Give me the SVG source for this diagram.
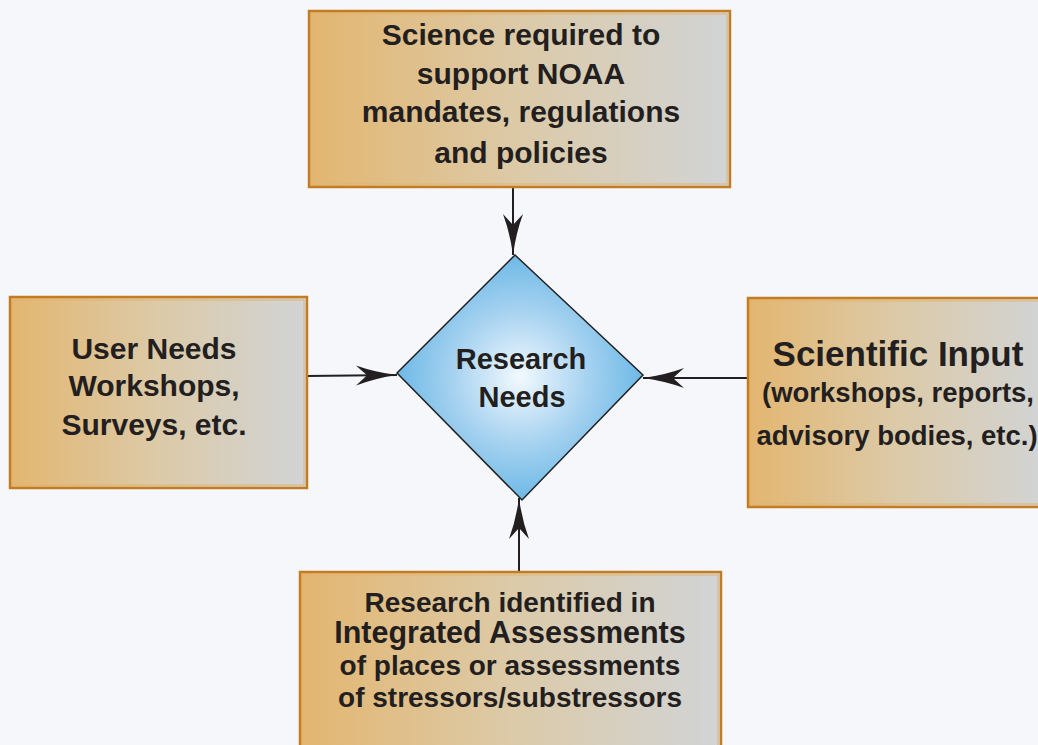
<svg xmlns="http://www.w3.org/2000/svg" width="1038" height="745" viewBox="0 0 1038 745">
<style>
.box{fill:url(#boxGrad);stroke:#c47c22;stroke-width:2.5}
.inner{fill:none;stroke:#e2b36e;stroke-width:1}
.t{font-family:"Liberation Sans",Arial,sans-serif;font-weight:bold;fill:#231f20;text-anchor:middle}
.conn{stroke:#231f20;stroke-width:2;fill:none;marker-end:url(#arrow)}
</style>
<defs>
<linearGradient id="boxGrad" x1="0" y1="0" x2="1" y2="0">
<stop offset="0" stop-color="#e3b670"/>
<stop offset="0.5" stop-color="#dccaa8"/>
<stop offset="1" stop-color="#d1d4d6"/>
</linearGradient>
<radialGradient id="diaGrad" cx="0.5" cy="0.5" r="0.5">
<stop offset="0" stop-color="#f2f9fe"/>
<stop offset="0.55" stop-color="#a6d2f0"/>
<stop offset="1" stop-color="#6db9e6"/>
</radialGradient>
<marker id="arrow" markerUnits="userSpaceOnUse" markerWidth="44" markerHeight="24" viewBox="-42 -12 44 24" refX="0" refY="0" orient="auto">
<path d="M0,0 Q-22,-3 -41,-10 L-30,0 L-41,10 Q-22,3 0,0 Z" fill="#231f20"/>
</marker>
</defs>
<rect width="1038" height="745" fill="#f5f7fb"/>
<g id="connectors">
<line class="conn" x1="513" y1="187" x2="513" y2="255"/>
<line class="conn" x1="307" y1="376" x2="397" y2="375"/>
<line class="conn" x1="748" y1="378" x2="643" y2="378"/>
<line class="conn" x1="519" y1="571" x2="519" y2="498"/>
</g>
<g id="node-top">
<rect class="box" x="309" y="11" width="421" height="176"/>
<rect class="inner" x="312" y="14" width="415" height="170"/>
<text class="t" font-size="30" x="521" y="45">Science required to</text>
<text class="t" font-size="30" x="521" y="84">support NOAA</text>
<text class="t" font-size="30" x="521" y="122">mandates, regulations</text>
<text class="t" font-size="30" x="521" y="163">and policies</text>
</g>
<g id="node-left">
<rect class="box" x="10" y="297" width="297" height="191"/>
<rect class="inner" x="13" y="300" width="291" height="185"/>
<text class="t" font-size="30" x="154" y="359">User Needs</text>
<text class="t" font-size="30" x="154" y="396">Workshops,</text>
<text class="t" font-size="30" x="154" y="435">Surveys, etc.</text>
</g>
<g id="node-right">
<rect class="box" x="748" y="298" width="300" height="209"/>
<rect class="inner" x="751" y="301" width="294" height="203"/>
<text class="t" font-size="35" x="898" y="366">Scientific Input</text>
<text class="t" font-size="27.5" x="898" y="402">(workshops, reports,</text>
<text class="t" font-size="27.5" x="897" y="445">advisory bodies, etc.)</text>
</g>
<g id="node-bottom">
<rect class="box" x="300" y="572" width="421" height="185"/>
<rect class="inner" x="303" y="575" width="415" height="185"/>
<text class="t" font-size="28" x="510" y="612">Research identified in</text>
<text class="t" font-size="30.5" x="510" y="643">Integrated Assessments</text>
<text class="t" font-size="28" x="510" y="675">of places or assessments</text>
<text class="t" font-size="28" x="510" y="707">of stressors/substressors</text>
</g>
<g id="node-center">
<polygon points="515,255 643,375 522,500 397,373" fill="url(#diaGrad)" stroke="#231f20" stroke-width="1.5"/>
<text class="t" font-size="29" x="521" y="369">Research</text>
<text class="t" font-size="29" x="522" y="407">Needs</text>
</g>
</svg>
